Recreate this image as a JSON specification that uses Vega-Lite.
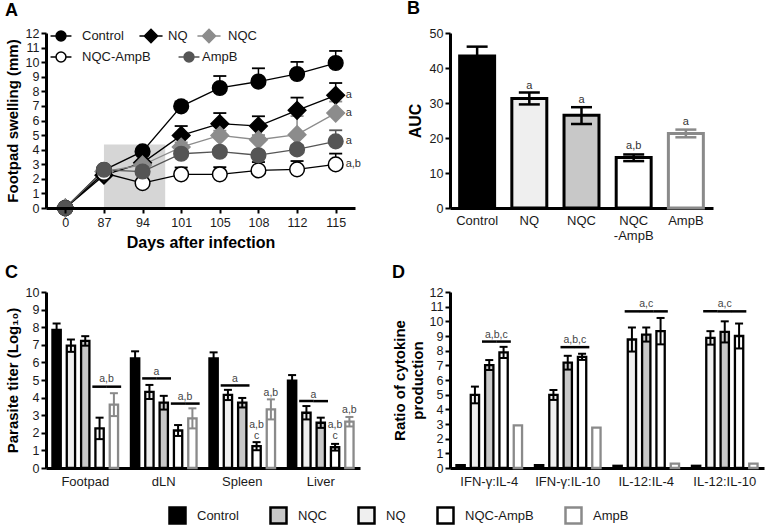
{
 "$schema": "https://vega.github.io/schema/vega-lite/v6.json",
 "padding": {"left": 5, "top": 0, "right": 2, "bottom": 0},
 "columns": 2,
 "bounds": "flush",
 "spacing": {"row": 84, "column": 90},
 "resolve": {
  "scale": {"color": "independent", "fill": "independent", "stroke": "independent", "shape": "independent", "xOffset": "independent"},
  "legend": {"color": "independent", "fill": "independent", "stroke": "independent", "shape": "independent"}
 },
 "config": {
  "font": "Liberation Sans",
  "view": {"stroke": null},
  "axis": {"domainColor": "#000", "domainWidth": 3, "tickColor": "#000", "tickWidth": 2, "tickSize": 5, "labelFontSize": 12.5, "labelColor": "#1a1a1a", "titleFontSize": 15, "titleFontWeight": "bold", "titleColor": "#000", "grid": false, "labelPadding": 2, "labelOverlap": false},
  "axisX": {"labelAngle": 0},
  "title": {"fontSize": 18, "fontWeight": "bold", "anchor": "start", "frame": "bounds", "offset": 4, "color": "#000"},
  "legend": {"labelColor": "#1a1a1a"}
 },
 "datasets": {
  "shade": [{"day": 87, "to": 101, "top": 4.35}],
  "swell": [
   {"day": 0, "group": "Control", "v": 0},
   {"day": 87, "group": "Control", "v": 2.6},
   {"day": 94, "group": "Control", "v": 3.88},
   {"day": 101, "group": "Control", "v": 6.97, "hi": 7.3},
   {"day": 105, "group": "Control", "v": 8.23, "hi": 9.05},
   {"day": 108, "group": "Control", "v": 8.67, "hi": 9.58},
   {"day": 112, "group": "Control", "v": 9.19, "hi": 10.02},
   {"day": 115, "group": "Control", "v": 9.94, "hi": 10.77},
   {"day": 0, "group": "NQ", "v": 0},
   {"day": 87, "group": "NQ", "v": 2.25},
   {"day": 94, "group": "NQ", "v": 3.1},
   {"day": 101, "group": "NQ", "v": 4.98, "hi": 5.62},
   {"day": 105, "group": "NQ", "v": 5.78, "hi": 6.51},
   {"day": 108, "group": "NQ", "v": 5.62, "hi": 6.29},
   {"day": 112, "group": "NQ", "v": 6.7, "hi": 7.57},
   {"day": 115, "group": "NQ", "v": 7.73, "hi": 8.57},
   {"day": 0, "group": "NQC", "v": 0},
   {"day": 87, "group": "NQC", "v": 2.5},
   {"day": 94, "group": "NQC", "v": 2.95},
   {"day": 101, "group": "NQC", "v": 4.18, "hi": 4.5},
   {"day": 105, "group": "NQC", "v": 4.98, "hi": 5.3},
   {"day": 108, "group": "NQC", "v": 4.68, "hi": 5.0},
   {"day": 112, "group": "NQC", "v": 5.03, "hi": 6.3},
   {"day": 115, "group": "NQC", "v": 6.51, "hi": 7.3},
   {"day": 0, "group": "NQC-AmpB", "v": 0},
   {"day": 87, "group": "NQC-AmpB", "v": 2.4},
   {"day": 94, "group": "NQC-AmpB", "v": 1.71},
   {"day": 101, "group": "NQC-AmpB", "v": 2.31, "hi": 2.78},
   {"day": 105, "group": "NQC-AmpB", "v": 2.31, "hi": 2.8},
   {"day": 108, "group": "NQC-AmpB", "v": 2.58, "hi": 3.15},
   {"day": 112, "group": "NQC-AmpB", "v": 2.65, "hi": 3.22},
   {"day": 115, "group": "NQC-AmpB", "v": 2.99, "hi": 3.73},
   {"day": 0, "group": "AmpB", "v": 0},
   {"day": 87, "group": "AmpB", "v": 2.62},
   {"day": 94, "group": "AmpB", "v": 2.5},
   {"day": 101, "group": "AmpB", "v": 3.72, "hi": 4.0},
   {"day": 105, "group": "AmpB", "v": 3.86, "hi": 4.1},
   {"day": 108, "group": "AmpB", "v": 3.62, "hi": 3.9},
   {"day": 112, "group": "AmpB", "v": 4.02, "hi": 4.3},
   {"day": 115, "group": "AmpB", "v": 4.57, "hi": 5.33}
  ],
  "annotA": [
   {"day": 115, "y": 7.73, "label": "a"},
   {"day": 115, "y": 6.51, "label": "a"},
   {"day": 115, "y": 4.57, "label": "a"},
   {"day": 115, "y": 2.99, "label": "a,b"}
  ],
  "auc": [
   {"group": "Control", "v": 43.4, "lo": 40.7, "hi": 46.1},
   {"group": "NQ", "v": 31.3, "lo": 29.6, "hi": 33.0, "note": "a", "ny": 35.0},
   {"group": "NQC", "v": 26.5, "lo": 24.0, "hi": 28.8, "note": "a", "ny": 31.0},
   {"group": "NQC-AmpB", "v": 14.4, "lo": 13.4, "hi": 15.3, "note": "a,b", "ny": 17.7},
   {"group": "AmpB", "v": 21.3, "lo": 20.2, "hi": 22.4, "note": "a", "ny": 24.7}
  ],
  "titer": [
   {"site": "Footpad", "group": "Control", "v": 7.85, "lo": 7.49, "hi": 8.21},
   {"site": "Footpad", "group": "NQ", "v": 6.95, "lo": 6.6, "hi": 7.3},
   {"site": "Footpad", "group": "NQC", "v": 7.22, "lo": 6.95, "hi": 7.49},
   {"site": "Footpad", "group": "NQC-AmpB", "v": 2.25, "lo": 1.64, "hi": 2.86},
   {"site": "Footpad", "group": "AmpB", "v": 3.6, "lo": 2.95, "hi": 4.25},
   {"site": "dLN", "group": "Control", "v": 6.23, "lo": 5.83, "hi": 6.63},
   {"site": "dLN", "group": "NQ", "v": 4.32, "lo": 3.92, "hi": 4.72},
   {"site": "dLN", "group": "NQC", "v": 3.71, "lo": 3.32, "hi": 4.1},
   {"site": "dLN", "group": "NQC-AmpB", "v": 2.13, "lo": 1.82, "hi": 2.44},
   {"site": "dLN", "group": "AmpB", "v": 2.82, "lo": 2.25, "hi": 3.39},
   {"site": "Spleen", "group": "Control", "v": 6.23, "lo": 5.89, "hi": 6.57},
   {"site": "Spleen", "group": "NQ", "v": 4.15, "lo": 3.86, "hi": 4.44},
   {"site": "Spleen", "group": "NQC", "v": 3.71, "lo": 3.44, "hi": 3.98},
   {"site": "Spleen", "group": "NQC-AmpB", "v": 1.24, "lo": 1.01, "hi": 1.47},
   {"site": "Spleen", "group": "AmpB", "v": 3.33, "lo": 2.76, "hi": 3.9},
   {"site": "Liver", "group": "Control", "v": 4.97, "lo": 4.66, "hi": 5.28},
   {"site": "Liver", "group": "NQ", "v": 3.14, "lo": 2.76, "hi": 3.52},
   {"site": "Liver", "group": "NQC", "v": 2.57, "lo": 2.28, "hi": 2.86},
   {"site": "Liver", "group": "NQC-AmpB", "v": 1.18, "lo": 0.99, "hi": 1.37},
   {"site": "Liver", "group": "AmpB", "v": 2.63, "lo": 2.36, "hi": 2.9}
  ],
  "cLines": [
   {"site": "Footpad", "group": "NQC-AmpB", "y": 4.62},
   {"site": "Footpad", "group": "AmpB", "y": 4.62},
   {"site": "dLN", "group": "NQ", "y": 5.09},
   {"site": "dLN", "group": "NQC", "y": 5.09},
   {"site": "dLN", "group": "NQC-AmpB", "y": 3.66},
   {"site": "dLN", "group": "AmpB", "y": 3.66},
   {"site": "Spleen", "group": "NQ", "y": 4.69},
   {"site": "Spleen", "group": "NQC", "y": 4.69},
   {"site": "Liver", "group": "NQ", "y": 3.8},
   {"site": "Liver", "group": "NQC", "y": 3.8}
  ],
  "cPairText": [
   {"site": "Footpad", "group": "NQC-AmpB", "y": 5.05, "label": "a,b"},
   {"site": "dLN", "group": "NQ", "y": 5.45, "label": "a"},
   {"site": "dLN", "group": "NQC-AmpB", "y": 4.05, "label": "a,b"},
   {"site": "Spleen", "group": "NQ", "y": 5.05, "label": "a"},
   {"site": "Liver", "group": "NQ", "y": 4.17, "label": "a"}
  ],
  "cText": [
   {"site": "Spleen", "group": "NQC-AmpB", "y": 2.42, "label": "a,b"},
   {"site": "Spleen", "group": "NQC-AmpB", "y": 1.8, "label": "c"},
   {"site": "Spleen", "group": "AmpB", "y": 4.28, "label": "a,b"},
   {"site": "Liver", "group": "NQC-AmpB", "y": 2.42, "label": "a,b"},
   {"site": "Liver", "group": "NQC-AmpB", "y": 1.8, "label": "c"},
   {"site": "Liver", "group": "AmpB", "y": 3.27, "label": "a,b"}
  ],
  "ratio": [
   {"site": "IFN-γ:IL-4", "group": "Control", "v": 0.2},
   {"site": "IFN-γ:IL-4", "group": "NQ", "v": 4.98, "lo": 4.41, "hi": 5.55},
   {"site": "IFN-γ:IL-4", "group": "NQC", "v": 7.02, "lo": 6.68, "hi": 7.36},
   {"site": "IFN-γ:IL-4", "group": "NQC-AmpB", "v": 7.88, "lo": 7.5, "hi": 8.26},
   {"site": "IFN-γ:IL-4", "group": "AmpB", "v": 2.9},
   {"site": "IFN-γ:IL-10", "group": "Control", "v": 0.2},
   {"site": "IFN-γ:IL-10", "group": "NQ", "v": 4.98, "lo": 4.64, "hi": 5.32},
   {"site": "IFN-γ:IL-10", "group": "NQC", "v": 7.18, "lo": 6.71, "hi": 7.65},
   {"site": "IFN-γ:IL-10", "group": "NQC-AmpB", "v": 7.58, "lo": 7.37, "hi": 7.79},
   {"site": "IFN-γ:IL-10", "group": "AmpB", "v": 2.75},
   {"site": "IL-12:IL-4", "group": "Control", "v": 0.15},
   {"site": "IL-12:IL-4", "group": "NQ", "v": 8.76, "lo": 7.94, "hi": 9.58},
   {"site": "IL-12:IL-4", "group": "NQC", "v": 9.1, "lo": 8.62, "hi": 9.58},
   {"site": "IL-12:IL-4", "group": "NQC-AmpB", "v": 9.33, "lo": 8.43, "hi": 10.23},
   {"site": "IL-12:IL-4", "group": "AmpB", "v": 0.3},
   {"site": "IL-12:IL-10", "group": "Control", "v": 0.15},
   {"site": "IL-12:IL-10", "group": "NQ", "v": 8.87, "lo": 8.41, "hi": 9.33},
   {"site": "IL-12:IL-10", "group": "NQC", "v": 9.28, "lo": 8.56, "hi": 10.0},
   {"site": "IL-12:IL-10", "group": "NQC-AmpB", "v": 9.0, "lo": 8.15, "hi": 9.85},
   {"site": "IL-12:IL-10", "group": "AmpB", "v": 0.3}
  ],
  "dLines": [
   {"site": "IFN-γ:IL-4", "group": "NQC", "y": 8.62},
   {"site": "IFN-γ:IL-4", "group": "NQC-AmpB", "y": 8.62},
   {"site": "IFN-γ:IL-10", "group": "NQC", "y": 8.24},
   {"site": "IFN-γ:IL-10", "group": "NQC-AmpB", "y": 8.24},
   {"site": "IL-12:IL-4", "group": "NQ", "y": 10.68},
   {"site": "IL-12:IL-4", "group": "NQC", "y": 10.68},
   {"site": "IL-12:IL-4", "group": "NQC-AmpB", "y": 10.68},
   {"site": "IL-12:IL-10", "group": "NQ", "y": 10.68},
   {"site": "IL-12:IL-10", "group": "NQC", "y": 10.68},
   {"site": "IL-12:IL-10", "group": "NQC-AmpB", "y": 10.68}
  ],
  "dPairText": [
   {"site": "IFN-γ:IL-4", "group": "NQC", "y": 9.05, "label": "a,b,c"},
   {"site": "IFN-γ:IL-10", "group": "NQC", "y": 8.72, "label": "a,b,c"}
  ],
  "dText": [
   {"site": "IL-12:IL-4", "group": "NQC", "y": 11.2, "label": "a,c"},
   {"site": "IL-12:IL-10", "group": "NQC", "y": 11.2, "label": "a,c"}
  ]
 },
 "concat": [
  {
   "title": "A",
   "width": 309,
   "height": 175,
   "resolve": {
    "scale": {"fill": "independent", "stroke": "independent", "shape": "independent"},
    "legend": {"fill": "independent", "stroke": "independent", "shape": "independent"}
   },
   "encoding": {
    "x": {"field": "day", "type": "ordinal", "scale": {"type": "point", "padding": 0.5, "domain": [0, 87, 94, 101, 105, 108, 112, 115]}, "title": "Days after infection", "axis": {"titleFontSize": 16, "labelPadding": 3, "titlePadding": 6}}
   },
   "layer": [
    {
     "data": {"name": "shade"},
     "mark": {"type": "rect", "fill": "#d6d6d6", "x2Offset": -16},
     "encoding": {
      "x2": {"field": "to"},
      "y": {"field": "top", "type": "quantitative", "title": "Footpad swelling (mm)", "scale": {"domain": [0, 12], "nice": false}, "axis": {"values": [0, 1, 2, 3, 4, 5, 6, 7, 8, 9, 10, 11, 12], "tickCount": 20, "format": "d", "titlePadding": 5}},
      "y2": {"datum": 0}
     }
    },
    {
     "data": {"name": "swell"},
     "transform": [{"filter": "isValid(datum.hi)"}],
     "mark": {"type": "rule", "strokeWidth": 1.5},
     "encoding": {
      "y": {"field": "v", "type": "quantitative", "title": "Footpad swelling (mm)"},
      "y2": {"field": "hi"},
      "color": {"field": "group", "type": "nominal", "scale": {"domain": ["AmpB", "Control", "NQ", "NQC", "NQC-AmpB"], "range": ["#555555", "#000000", "#000000", "#8c8c8c", "#000000"]}, "legend": null}
     }
    },
    {
     "data": {"name": "swell"},
     "transform": [{"filter": "isValid(datum.hi)"}],
     "mark": {"type": "point", "shape": "stroke", "size": 169, "strokeWidth": 1.8, "opacity": 1},
     "encoding": {
      "y": {"field": "hi", "type": "quantitative", "title": "Footpad swelling (mm)"},
      "color": {"field": "group", "type": "nominal", "legend": null}
     }
    },
    {
     "data": {"name": "swell"},
     "mark": {"type": "line", "strokeWidth": 1.3},
     "encoding": {
      "y": {"field": "v", "type": "quantitative", "title": "Footpad swelling (mm)"},
      "color": {"field": "group", "type": "nominal", "legend": null}
     }
    },
    {
     "data": {"name": "swell"},
     "transform": [{"filter": "indexof(['Control', 'NQ', 'NQC'], datum.group) >= 0"}],
     "mark": {"type": "point", "filled": true, "strokeWidth": 1.5, "opacity": 1, "size": 215},
     "encoding": {
      "y": {"field": "v", "type": "quantitative", "title": "Footpad swelling (mm)"},
      "shape": {"field": "group", "type": "nominal", "scale": {"domain": ["Control", "NQ", "NQC"], "range": ["circle", "M0,-1.2L1.2,0L0,1.2L-1.2,0Z", "M0,-1.2L1.2,0L0,1.2L-1.2,0Z"]}, "legend": null},
      "fill": {"field": "group", "type": "nominal", "scale": {"domain": ["Control", "NQ", "NQC"], "range": ["#000000", "#000000", "#8c8c8c"]}, "legend": null},
      "stroke": {"field": "group", "type": "nominal", "scale": {"domain": ["Control", "NQ", "NQC"], "range": ["#000000", "#000000", "#8c8c8c"]}, "legend": null}
     }
    },
    {
     "data": {"name": "swell"},
     "transform": [{"filter": "indexof(['NQC-AmpB', 'AmpB'], datum.group) >= 0"}],
     "mark": {"type": "point", "filled": true, "shape": "circle", "strokeWidth": 1.5, "opacity": 1, "size": 215},
     "encoding": {
      "y": {"field": "v", "type": "quantitative", "title": "Footpad swelling (mm)"},
      "fill": {"field": "group", "type": "nominal", "scale": {"domain": ["NQC-AmpB", "AmpB"], "range": ["#ffffff", "#555555"]}, "legend": null},
      "stroke": {"field": "group", "type": "nominal", "scale": {"domain": ["NQC-AmpB", "AmpB"], "range": ["#000000", "#555555"]}, "legend": null}
     }
    },
    {
     "data": {"name": "swell"},
     "transform": [{"filter": "datum.v < -100"}],
     "mark": {"type": "point", "filled": true, "strokeWidth": 1.5, "opacity": 1},
     "encoding": {
      "y": {"field": "v", "type": "quantitative", "title": "Footpad swelling (mm)"},
      "fill": {"field": "group", "type": "nominal", "scale": {"domain": ["Control"], "range": ["#000000"]}, "legend": {"title": null, "orient": "none", "legendX": 3, "legendY": -9, "labelFontSize": 13, "symbolSize": 484, "symbolStrokeWidth": 1.5, "symbolType": "M-0.95,0L-0.45,0M0.45,0L0.95,0M0.45,0A0.45,0.45,0,1,1,-0.45,0A0.45,0.45,0,1,1,0.45,0Z", "labelOffset": 9}},
      "stroke": {"field": "group", "type": "nominal", "scale": {"domain": ["Control"], "range": ["#000000"]}, "legend": {"title": null, "orient": "none", "legendX": 3, "legendY": -9, "labelFontSize": 13, "symbolSize": 484, "symbolStrokeWidth": 1.5, "symbolType": "M-0.95,0L-0.45,0M0.45,0L0.95,0M0.45,0A0.45,0.45,0,1,1,-0.45,0A0.45,0.45,0,1,1,0.45,0Z", "labelOffset": 9}}
     }
    },
    {
     "data": {"name": "swell"},
     "transform": [{"filter": "datum.v < -100"}],
     "mark": {"type": "point", "filled": true, "strokeWidth": 1.5, "opacity": 1},
     "encoding": {
      "y": {"field": "v", "type": "quantitative", "title": "Footpad swelling (mm)"},
      "fill": {"field": "group", "type": "nominal", "scale": {"domain": ["NQ"], "range": ["#000000"]}, "legend": {"title": null, "orient": "none", "legendX": 93, "legendY": -9, "labelFontSize": 13, "symbolSize": 484, "symbolStrokeWidth": 1.5, "symbolType": "M-1.05,0L-0.6,0M0.6,0L1.05,0M0,-0.6L0.6,0L0,0.6L-0.6,0Z", "labelOffset": 5}},
      "stroke": {"field": "group", "type": "nominal", "scale": {"domain": ["NQ"], "range": ["#000000"]}, "legend": {"title": null, "orient": "none", "legendX": 93, "legendY": -9, "labelFontSize": 13, "symbolSize": 484, "symbolStrokeWidth": 1.5, "symbolType": "M-1.05,0L-0.6,0M0.6,0L1.05,0M0,-0.6L0.6,0L0,0.6L-0.6,0Z", "labelOffset": 5}}
     }
    },
    {
     "data": {"name": "swell"},
     "transform": [{"filter": "datum.v < -100"}],
     "mark": {"type": "point", "filled": true, "strokeWidth": 1.5, "opacity": 1},
     "encoding": {
      "y": {"field": "v", "type": "quantitative", "title": "Footpad swelling (mm)"},
      "fill": {"field": "group", "type": "nominal", "scale": {"domain": ["NQC"], "range": ["#8c8c8c"]}, "legend": {"title": null, "orient": "none", "legendX": 151, "legendY": -9, "labelFontSize": 13, "symbolSize": 484, "symbolStrokeWidth": 1.5, "symbolType": "M-1.05,0L-0.6,0M0.6,0L1.05,0M0,-0.6L0.6,0L0,0.6L-0.6,0Z", "labelOffset": 7}},
      "stroke": {"field": "group", "type": "nominal", "scale": {"domain": ["NQC"], "range": ["#8c8c8c"]}, "legend": {"title": null, "orient": "none", "legendX": 151, "legendY": -9, "labelFontSize": 13, "symbolSize": 484, "symbolStrokeWidth": 1.5, "symbolType": "M-1.05,0L-0.6,0M0.6,0L1.05,0M0,-0.6L0.6,0L0,0.6L-0.6,0Z", "labelOffset": 7}}
     }
    },
    {
     "data": {"name": "swell"},
     "transform": [{"filter": "datum.v < -100"}],
     "mark": {"type": "point", "filled": true, "strokeWidth": 1.5, "opacity": 1},
     "encoding": {
      "y": {"field": "v", "type": "quantitative", "title": "Footpad swelling (mm)"},
      "fill": {"field": "group", "type": "nominal", "scale": {"domain": ["NQC-AmpB"], "range": ["#ffffff"]}, "legend": {"title": null, "orient": "none", "legendX": 3, "legendY": 12, "labelFontSize": 13, "symbolSize": 484, "symbolStrokeWidth": 1.5, "symbolType": "M-0.95,0L-0.45,0M0.45,0L0.95,0M0.45,0A0.45,0.45,0,1,1,-0.45,0A0.45,0.45,0,1,1,0.45,0Z", "labelOffset": 9}},
      "stroke": {"field": "group", "type": "nominal", "scale": {"domain": ["NQC-AmpB"], "range": ["#000000"]}, "legend": {"title": null, "orient": "none", "legendX": 3, "legendY": 12, "labelFontSize": 13, "symbolSize": 484, "symbolStrokeWidth": 1.5, "symbolType": "M-0.95,0L-0.45,0M0.45,0L0.95,0M0.45,0A0.45,0.45,0,1,1,-0.45,0A0.45,0.45,0,1,1,0.45,0Z", "labelOffset": 9}}
     }
    },
    {
     "data": {"name": "swell"},
     "transform": [{"filter": "datum.v < -100"}],
     "mark": {"type": "point", "filled": true, "strokeWidth": 1.5, "opacity": 1},
     "encoding": {
      "y": {"field": "v", "type": "quantitative", "title": "Footpad swelling (mm)"},
      "fill": {"field": "group", "type": "nominal", "scale": {"domain": ["AmpB"], "range": ["#555555"]}, "legend": {"title": null, "orient": "none", "legendX": 131, "legendY": 12, "labelFontSize": 13, "symbolSize": 484, "symbolStrokeWidth": 1.5, "symbolType": "M-0.95,0L-0.45,0M0.45,0L0.95,0M0.45,0A0.45,0.45,0,1,1,-0.45,0A0.45,0.45,0,1,1,0.45,0Z", "labelOffset": 1}},
      "stroke": {"field": "group", "type": "nominal", "scale": {"domain": ["AmpB"], "range": ["#555555"]}, "legend": {"title": null, "orient": "none", "legendX": 131, "legendY": 12, "labelFontSize": 13, "symbolSize": 484, "symbolStrokeWidth": 1.5, "symbolType": "M-0.95,0L-0.45,0M0.45,0L0.95,0M0.45,0A0.45,0.45,0,1,1,-0.45,0A0.45,0.45,0,1,1,0.45,0Z", "labelOffset": 1}}
     }
    },
    {
     "data": {"name": "annotA"},
     "mark": {"type": "text", "align": "left", "baseline": "middle", "dx": 10, "fontSize": 11, "fill": "#333"},
     "encoding": {
      "y": {"field": "y", "type": "quantitative", "title": "Footpad swelling (mm)"},
      "text": {"field": "label"}
     }
    }
   ]
  },
  {
   "title": {"text": "B", "offset": 9},
   "width": 263,
   "height": 175,
   "data": {"name": "auc"},
   "encoding": {
    "x": {"field": "group", "type": "nominal", "scale": {"domain": ["Control", "NQ", "NQC", "NQC-AmpB", "AmpB"], "paddingInner": 0.33, "paddingOuter": 0.185}, "axis": {"title": null, "ticks": false, "labelFontSize": 13, "labelPadding": 6, "labelExpr": "datum.label == 'NQC-AmpB' ? ['NQC', '-AmpB'] : datum.label"}}
   },
   "layer": [
    {
     "mark": {"type": "bar", "strokeWidth": 3},
     "encoding": {
      "y": {"field": "v", "type": "quantitative", "title": "AUC", "scale": {"domain": [0, 50], "nice": false}, "axis": {"values": [0, 10, 20, 30, 40, 50], "tickCount": 20, "format": "d", "titleFontSize": 16, "titlePadding": 6}},
      "fill": {"field": "group", "type": "nominal", "scale": {"domain": ["Control", "NQ", "NQC", "NQC-AmpB", "AmpB"], "range": ["#000000", "#efefef", "#c8c8c8", "#ffffff", "#ffffff"]}, "legend": null},
      "stroke": {"field": "group", "type": "nominal", "scale": {"domain": ["Control", "NQ", "NQC", "NQC-AmpB", "AmpB"], "range": ["#000000", "#000000", "#000000", "#000000", "#8a8a8a"]}, "legend": null}
     }
    },
    {
     "mark": {"type": "rule", "strokeWidth": 2.5},
     "encoding": {
      "y": {"field": "lo", "type": "quantitative", "title": "AUC"},
      "y2": {"field": "hi"},
      "stroke": {"field": "group", "type": "nominal", "legend": null}
     }
    },
    {
     "mark": {"type": "point", "shape": "stroke", "size": 441, "strokeWidth": 2.5, "opacity": 1},
     "encoding": {
      "y": {"field": "hi", "type": "quantitative", "title": "AUC"},
      "stroke": {"field": "group", "type": "nominal", "legend": null}
     }
    },
    {
     "mark": {"type": "point", "shape": "stroke", "size": 441, "strokeWidth": 2.5, "opacity": 1},
     "encoding": {
      "y": {"field": "lo", "type": "quantitative", "title": "AUC"},
      "stroke": {"field": "group", "type": "nominal", "legend": null}
     }
    },
    {
     "transform": [{"filter": "isValid(datum.note)"}],
     "mark": {"type": "text", "fontSize": 11, "fill": "#333", "baseline": "middle"},
     "encoding": {
      "y": {"field": "ny", "type": "quantitative", "title": "AUC"},
      "text": {"field": "note"}
     }
    }
   ]
  },
  {
   "title": "C",
   "width": 314,
   "height": 176,
   "encoding": {
    "x": {"field": "site", "type": "nominal", "scale": {"domain": ["Footpad", "dLN", "Spleen", "Liver"], "paddingInner": 0, "paddingOuter": 0}, "axis": {"title": null, "ticks": false, "labelFontSize": 13, "labelPadding": 7}},
    "xOffset": {"field": "group", "type": "nominal", "scale": {"domain": ["Control", "NQ", "NQC", "NQC-AmpB", "AmpB"], "paddingInner": 0.42, "paddingOuter": 0.45}}
   },
   "layer": [
    {
     "data": {"name": "titer"},
     "mark": {"type": "bar", "strokeWidth": 2.3},
     "encoding": {
      "y": {"field": "v", "type": "quantitative", "title": "Parasite titer (Log₁₀)", "scale": {"domain": [0, 10], "nice": false}, "axis": {"values": [0, 1, 2, 3, 4, 5, 6, 7, 8, 9, 10], "tickCount": 20, "format": "d", "titlePadding": 5}},
      "fill": {"field": "group", "type": "nominal", "scale": {"domain": ["Control", "NQ", "NQC", "NQC-AmpB", "AmpB"], "range": ["#000000", "#efefef", "#c8c8c8", "#ffffff", "#ffffff"]}, "legend": {"title": null, "orient": "none", "legendX": 122, "legendY": 214, "direction": "horizontal", "values": ["Control", "NQC", "NQ", "NQC-AmpB", "AmpB"], "symbolType": "square", "symbolSize": 256, "symbolStrokeWidth": 2.5, "labelFontSize": 13, "labelOffset": 10, "columnPadding": 26, "gridAlign": "none"}},
      "stroke": {"field": "group", "type": "nominal", "scale": {"domain": ["Control", "NQ", "NQC", "NQC-AmpB", "AmpB"], "range": ["#000000", "#000000", "#000000", "#000000", "#8a8a8a"]}, "legend": {"title": null, "orient": "none", "legendX": 122, "legendY": 214, "direction": "horizontal", "values": ["Control", "NQC", "NQ", "NQC-AmpB", "AmpB"], "symbolType": "square", "symbolSize": 256, "symbolStrokeWidth": 2.5, "labelFontSize": 13, "labelOffset": 10, "columnPadding": 26, "gridAlign": "none"}}
     }
    },
    {
     "data": {"name": "titer"},
     "mark": {"type": "rule", "strokeWidth": 2},
     "encoding": {
      "y": {"field": "lo", "type": "quantitative", "title": "Parasite titer (Log₁₀)"},
      "y2": {"field": "hi"},
      "stroke": {"field": "group", "type": "nominal", "legend": null}
     }
    },
    {
     "data": {"name": "titer"},
     "mark": {"type": "point", "shape": "stroke", "size": 64, "strokeWidth": 2, "opacity": 1},
     "encoding": {
      "y": {"field": "hi", "type": "quantitative", "title": "Parasite titer (Log₁₀)"},
      "stroke": {"field": "group", "type": "nominal", "legend": null}
     }
    },
    {
     "data": {"name": "titer"},
     "mark": {"type": "point", "shape": "stroke", "size": 64, "strokeWidth": 2, "opacity": 1},
     "encoding": {
      "y": {"field": "lo", "type": "quantitative", "title": "Parasite titer (Log₁₀)"},
      "stroke": {"field": "group", "type": "nominal", "legend": null}
     }
    },
    {
     "data": {"name": "cLines"},
     "mark": {"type": "tick", "orient": "horizontal", "size": 14.5, "thickness": 2.5, "color": "#000", "opacity": 1},
     "encoding": {
      "y": {"field": "y", "type": "quantitative", "title": "Parasite titer (Log₁₀)"}
     }
    },
    {
     "data": {"name": "cPairText"},
     "mark": {"type": "text", "fontSize": 10.5, "fill": "#444", "baseline": "middle", "dx": 7},
     "encoding": {
      "y": {"field": "y", "type": "quantitative", "title": "Parasite titer (Log₁₀)"},
      "text": {"field": "label"}
     }
    },
    {
     "data": {"name": "cText"},
     "mark": {"type": "text", "fontSize": 10.5, "fill": "#444", "baseline": "middle"},
     "encoding": {
      "y": {"field": "y", "type": "quantitative", "title": "Parasite titer (Log₁₀)"},
      "text": {"field": "label"}
     }
    }
   ]
  },
  {
   "title": "D",
   "width": 314,
   "height": 176,
   "encoding": {
    "x": {"field": "site", "type": "nominal", "scale": {"domain": ["IFN-γ:IL-4", "IFN-γ:IL-10", "IL-12:IL-4", "IL-12:IL-10"], "paddingInner": 0, "paddingOuter": 0}, "axis": {"title": null, "ticks": false, "labelFontSize": 13, "labelPadding": 7}},
    "xOffset": {"field": "group", "type": "nominal", "scale": {"domain": ["Control", "NQ", "NQC", "NQC-AmpB", "AmpB"], "paddingInner": 0.42, "paddingOuter": 0.45}}
   },
   "layer": [
    {
     "data": {"name": "ratio"},
     "mark": {"type": "bar", "strokeWidth": 2.3},
     "encoding": {
      "y": {"field": "v", "type": "quantitative", "title": ["Ratio of cytokine", "production"], "scale": {"domain": [0, 12], "nice": false}, "axis": {"values": [0, 1, 2, 3, 4, 5, 6, 7, 8, 9, 10, 11, 12], "tickCount": 20, "format": "d", "titlePadding": 4, "titleLineHeight": 18}},
      "fill": {"field": "group", "type": "nominal", "scale": {"domain": ["Control", "NQ", "NQC", "NQC-AmpB", "AmpB"], "range": ["#000000", "#efefef", "#c8c8c8", "#ffffff", "#ffffff"]}, "legend": null},
      "stroke": {"field": "group", "type": "nominal", "scale": {"domain": ["Control", "NQ", "NQC", "NQC-AmpB", "AmpB"], "range": ["#000000", "#000000", "#000000", "#000000", "#8a8a8a"]}, "legend": null}
     }
    },
    {
     "data": {"name": "ratio"},
     "transform": [{"filter": "isValid(datum.hi)"}],
     "mark": {"type": "rule", "strokeWidth": 2},
     "encoding": {
      "y": {"field": "lo", "type": "quantitative", "title": ["Ratio of cytokine", "production"]},
      "y2": {"field": "hi"},
      "stroke": {"field": "group", "type": "nominal", "legend": null}
     }
    },
    {
     "data": {"name": "ratio"},
     "transform": [{"filter": "isValid(datum.hi)"}],
     "mark": {"type": "point", "shape": "stroke", "size": 64, "strokeWidth": 2, "opacity": 1},
     "encoding": {
      "y": {"field": "hi", "type": "quantitative", "title": ["Ratio of cytokine", "production"]},
      "stroke": {"field": "group", "type": "nominal", "legend": null}
     }
    },
    {
     "data": {"name": "ratio"},
     "transform": [{"filter": "isValid(datum.hi)"}],
     "mark": {"type": "point", "shape": "stroke", "size": 64, "strokeWidth": 2, "opacity": 1},
     "encoding": {
      "y": {"field": "lo", "type": "quantitative", "title": ["Ratio of cytokine", "production"]},
      "stroke": {"field": "group", "type": "nominal", "legend": null}
     }
    },
    {
     "data": {"name": "dLines"},
     "mark": {"type": "tick", "orient": "horizontal", "size": 14.5, "thickness": 2.5, "color": "#000", "opacity": 1},
     "encoding": {
      "y": {"field": "y", "type": "quantitative", "title": ["Ratio of cytokine", "production"]}
     }
    },
    {
     "data": {"name": "dPairText"},
     "mark": {"type": "text", "fontSize": 10.5, "fill": "#444", "baseline": "middle", "dx": 7},
     "encoding": {
      "y": {"field": "y", "type": "quantitative", "title": ["Ratio of cytokine", "production"]},
      "text": {"field": "label"}
     }
    },
    {
     "data": {"name": "dText"},
     "mark": {"type": "text", "fontSize": 10.5, "fill": "#444", "baseline": "middle"},
     "encoding": {
      "y": {"field": "y", "type": "quantitative", "title": ["Ratio of cytokine", "production"]},
      "text": {"field": "label"}
     }
    }
   ]
  }
 ]
}
